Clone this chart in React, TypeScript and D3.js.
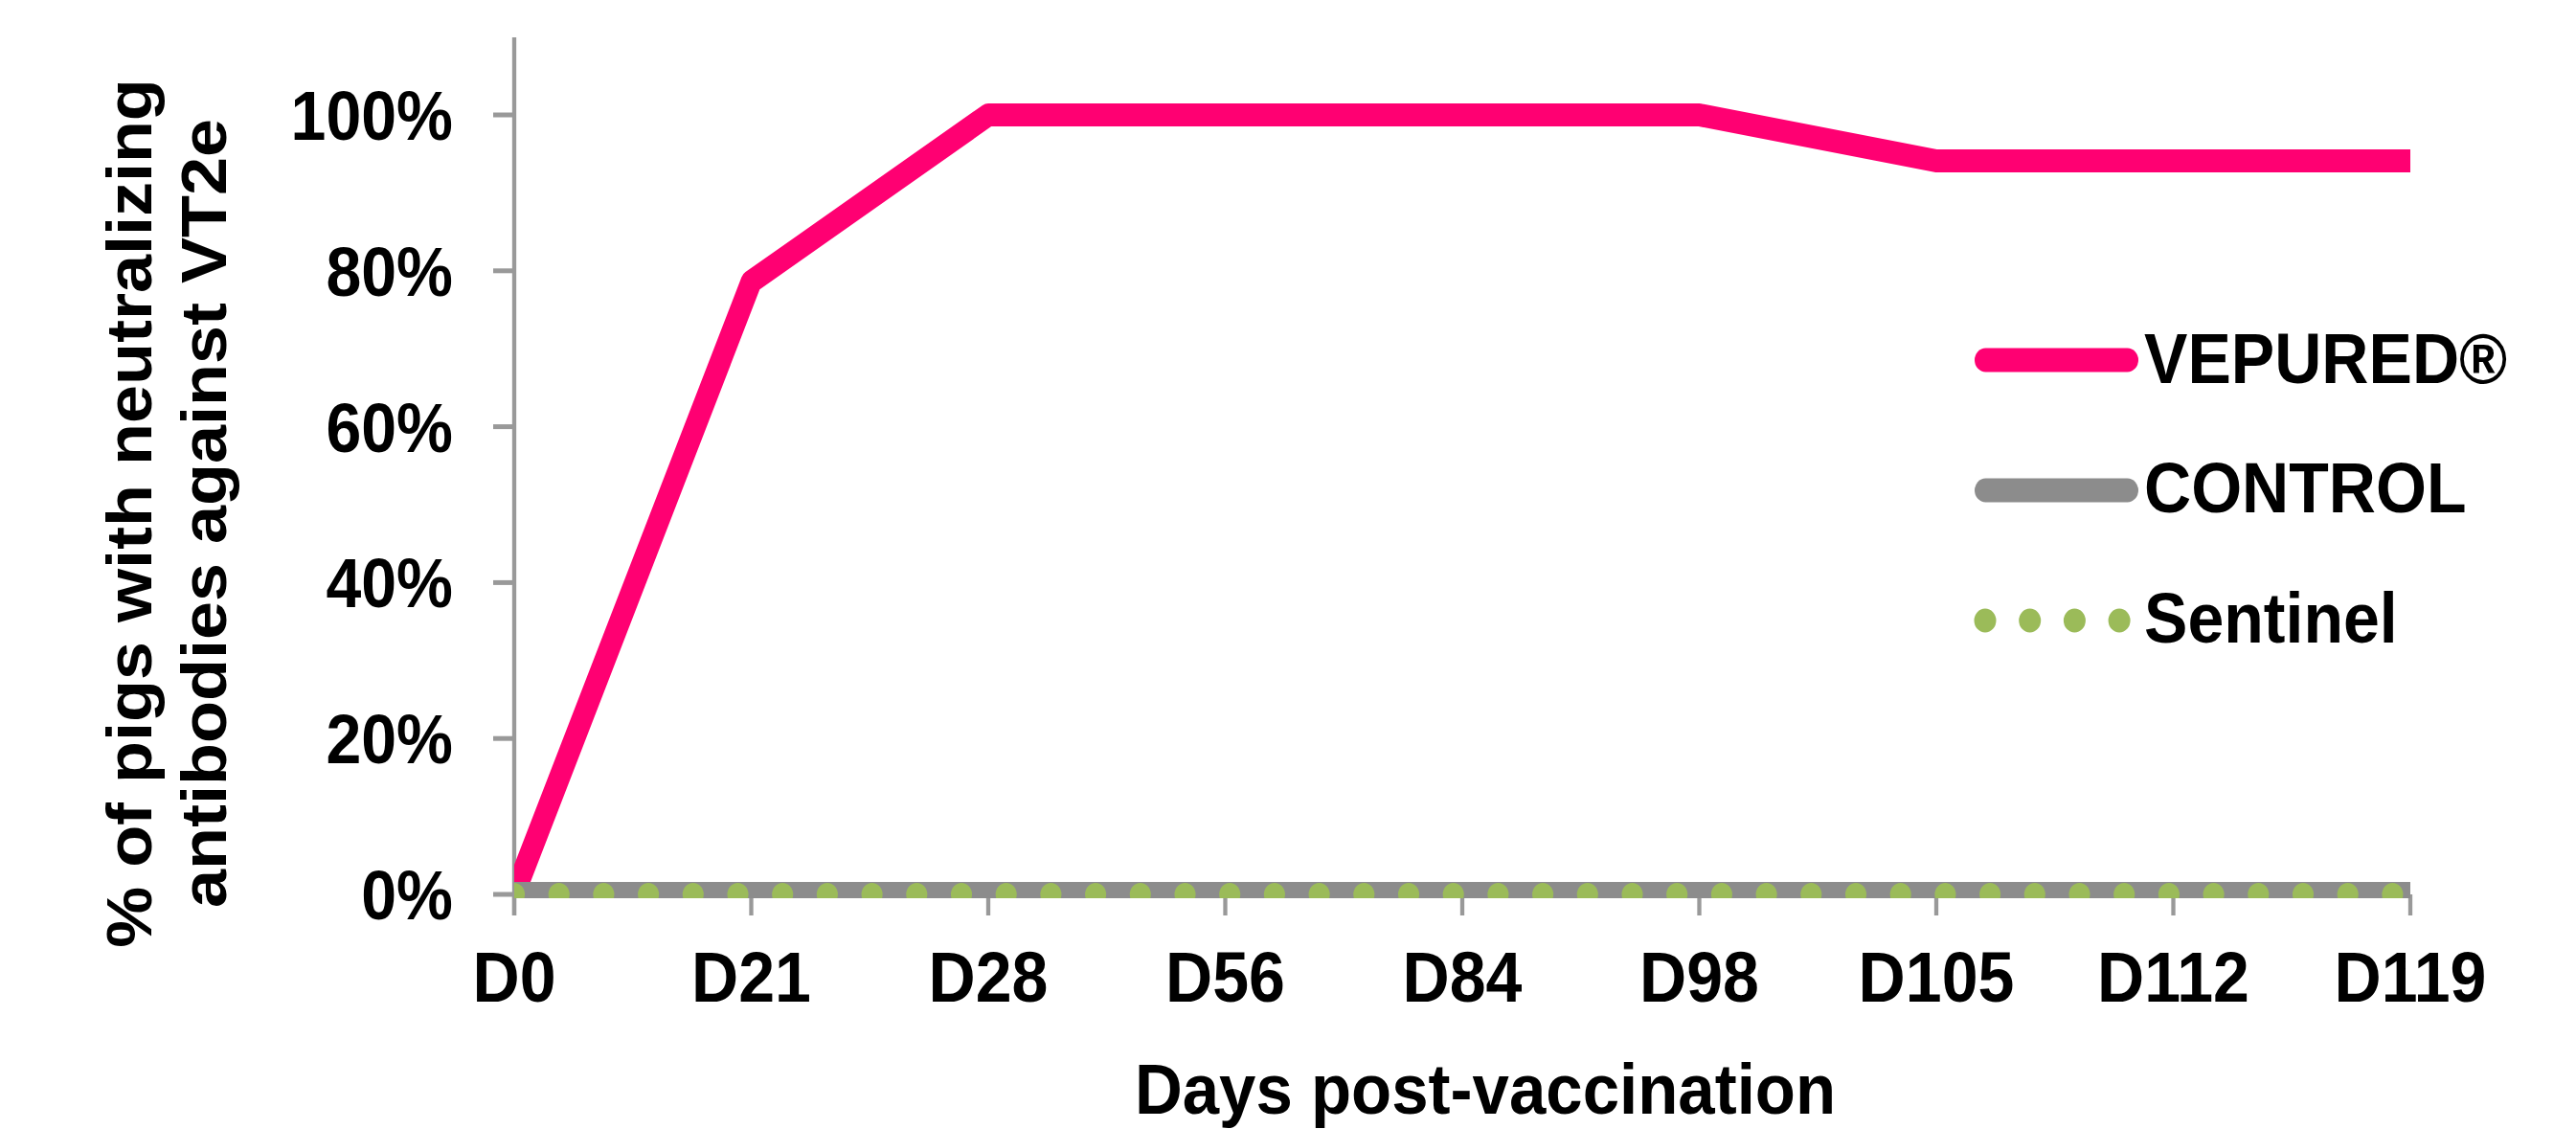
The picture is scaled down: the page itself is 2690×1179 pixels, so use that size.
import React from "react";
import * as d3 from "d3";

const categories = ["D0", "D21", "D28", "D56", "D84", "D98", "D105", "D112", "D119"];
const vepured = [0, 0.786, 1, 1, 1, 1, 0.941, 0.941, 0.941];
const control = [0, 0, 0, 0, 0, 0, 0, 0, 0];
const sentinel = [0, 0, 0, 0, 0, 0, 0, 0, 0];
const yTicks = [0, 0.2, 0.4, 0.6, 0.8, 1.0];
const legendItems = ["VEPURED®", "CONTROL", "Sentinel"];

const W = 2690;
const H = 1179;
const S = 0.92; // horizontal squeeze of the original picture
const FONT = "'Liberation Sans', Arial, Helvetica, sans-serif";
const PINK = "#FF0072";
const GREY = "#8C8C8C";
const GREEN = "#9BBB59";
const AXIS = "#999999";

export default function App() {
  React.useEffect(() => {
    document.body.style.margin = "0";
  }, []);

  const x0 = 537 / S;
  const x1 = 2517 / S;
  const x = d3.scalePoint<string>().domain(categories).range([x0, x1]).padding(0);
  const y = d3.scaleLinear().domain([0, 1]).range([934, 120]);

  const line = d3
    .line<number>()
    .x((_, i) => x(categories[i]) as number)
    .y((d) => y(d));

  const dotGap = 46.7 / S;
  const legendTextX = 2239 / S;
  const legendBaselines = [400, 535, 671];
  const sampleX0 = (2062 + 11.5) / S;
  const sampleX1 = (2233 - 11.5) / S;

  const titleCx = 1551 / S;

  return (
    <svg
      width={W}
      height={H}
      style={{ position: "absolute", left: 0, top: 0, background: "#fff" }}
      fontFamily={FONT}
      fontWeight="bold"
    >
      <rect x={0} y={0} width={W} height={H} fill="#fff" />
      <g transform={`scale(${S},1)`}>
        <defs>
          <clipPath id="plotClip">
            <rect x={x0} y={0} width={x1 - x0 + 200} height={938} />
          </clipPath>
        </defs>

        {/* axes */}
        <line x1={x0} x2={x1} y1={y(0)} y2={y(0)} stroke={AXIS} strokeWidth={5} />
        <line x1={x0} x2={x0} y1={39} y2={956} stroke={AXIS} strokeWidth={4.7} />
        {yTicks.map((t) => (
          <line key={"yt" + t} x1={515 / S} x2={x0} y1={y(t)} y2={y(t)} stroke={AXIS} strokeWidth={5} />
        ))}
        {categories.map((c) => (
          <line
            key={"xt" + c}
            x1={x(c) as number}
            x2={x(c) as number}
            y1={y(0)}
            y2={956}
            stroke={AXIS}
            strokeWidth={4.7}
          />
        ))}

        {/* tick labels */}
        {yTicks.map((t) => (
          <text key={"yl" + t} x={473 / S} y={y(t) + 26} textAnchor="end" fontSize={72} fill="#000">
            {Math.round(t * 100) + "%"}
          </text>
        ))}
        {categories.map((c) => (
          <text key={"xl" + c} x={x(c) as number} y={1046} textAnchor="middle" fontSize={74} fill="#000">
            {c}
          </text>
        ))}

        {/* axis titles */}
        <text x={titleCx} y={1163} textAnchor="middle" fontSize={75} fill="#000">
          Days post-vaccination
        </text>
        <g transform={`translate(${158 / S},536) rotate(-90)`}>
          <text x={0} y={0} textAnchor="middle" fontSize={72} fill="#000">
            % of pigs with neutralizing
          </text>
        </g>
        <g transform={`translate(${236 / S},536) rotate(-90)`}>
          <text x={0} y={0} textAnchor="middle" fontSize={72} fill="#000">
            antibodies against VT2e
          </text>
        </g>

        {/* series */}
        <g clipPath="url(#plotClip)">
          <path d={line(vepured) as string} fill="none" stroke={PINK} strokeWidth={24} strokeLinejoin="round" strokeLinecap="butt" />
          <path d={line(control) as string} fill="none" stroke={GREY} strokeWidth={26} strokeLinecap="butt" />
          <path
            d={line(sentinel) as string}
            fill="none"
            stroke={GREEN}
            strokeWidth={24}
            strokeLinecap="round"
            strokeDasharray={`0 ${dotGap}`}
          />
        </g>

        {/* legend */}
        <line x1={sampleX0} x2={sampleX1} y1={376} y2={376} stroke={PINK} strokeWidth={25} strokeLinecap="round" />
        <line x1={sampleX0} x2={sampleX1} y1={512} y2={512} stroke={GREY} strokeWidth={25} strokeLinecap="round" />
        <line
          x1={2073 / S}
          x2={2214 / S}
          y1={648}
          y2={648}
          stroke={GREEN}
          strokeWidth={25}
          strokeLinecap="round"
          strokeDasharray={`0 ${dotGap}`}
        />
        {legendItems.map((l, i) => (
          <text key={l} x={legendTextX} y={legendBaselines[i]} fontSize={74} fill="#000">
            {l}
          </text>
        ))}
      </g>
    </svg>
  );
}
